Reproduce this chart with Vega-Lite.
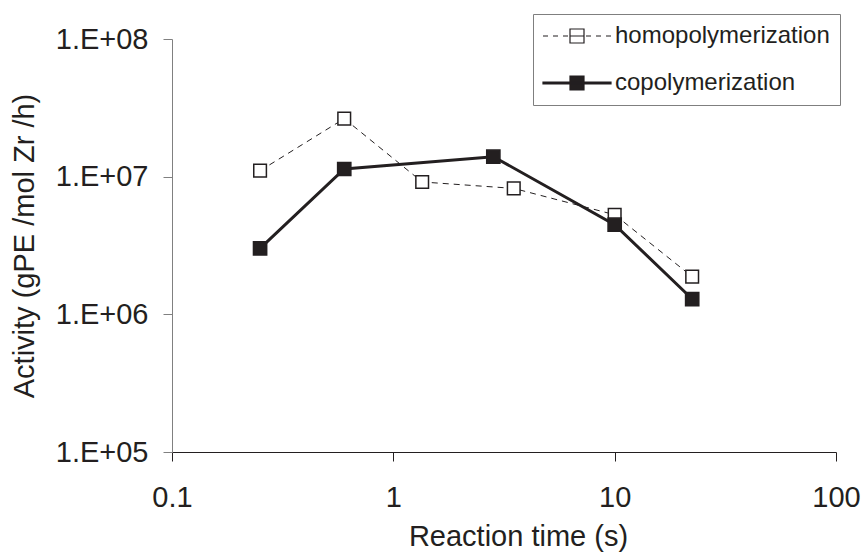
{
  "$schema": "https://vega.github.io/schema/vega-lite/v6.json",
  "width": 664,
  "height": 413,
  "autosize": "none",
  "padding": {"left": 172, "top": 39, "right": 29, "bottom": 101},
  "background": "white",
  "config": {
    "view": {"stroke": null},
    "font": "Liberation Sans",
    "legend": {
      "padding": 10,
      "strokeColor": "#7f7f7f",
      "fillColor": "white",
      "symbolSize": 400,
      "symbolStrokeWidth": 1.2,
      "symbolOffset": 22,
      "labelOffset": 26,
      "labelFontSize": 24,
      "labelLimit": 500,
      "labelColor": "#231f20",
      "rowPadding": 23
    }
  },
  "data": {
    "values": [
      {"series": "homopolymerization", "time": 0.25, "activity": 11050000},
      {"series": "homopolymerization", "time": 0.6, "activity": 26400000},
      {"series": "homopolymerization", "time": 1.35, "activity": 9150000},
      {"series": "homopolymerization", "time": 3.5, "activity": 8220000},
      {"series": "homopolymerization", "time": 10.0, "activity": 5290000},
      {"series": "homopolymerization", "time": 22.4, "activity": 1877000},
      {"series": "copolymerization", "time": 0.25, "activity": 3010000},
      {"series": "copolymerization", "time": 0.6, "activity": 11370000},
      {"series": "copolymerization", "time": 2.83, "activity": 13970000},
      {"series": "copolymerization", "time": 10.0, "activity": 4480000},
      {"series": "copolymerization", "time": 22.4, "activity": 1292000}
    ]
  },
  "encoding": {
    "x": {
      "field": "time",
      "type": "quantitative",
      "scale": {"type": "log", "domain": [0.1, 100]},
      "axis": {
        "title": "Reaction time (s)",
        "values": [0.1, 1, 10, 100],
        "format": "~g",
        "grid": false,
        "domainColor": "#231f20",
        "tickColor": "#231f20",
        "tickSize": 9,
        "labelFontSize": 29,
        "labelPadding": 22,
        "labelColor": "#231f20",
        "labelFlush": false,
        "labelOverlap": false,
        "titleFontSize": 29,
        "titleFontWeight": "normal",
        "titleColor": "#231f20",
        "titlePadding": 10,
        "titleX": 346
      }
    },
    "y": {
      "field": "activity",
      "type": "quantitative",
      "scale": {"type": "log", "domain": [100000, 100000000]},
      "axis": {
        "title": "Activity (gPE /mol Zr /h)",
        "values": [100000, 1000000, 10000000, 100000000],
        "labelExpr": "'1.E+0' + round(log(datum.value) / LN10)",
        "grid": false,
        "domainColor": "#808080",
        "tickColor": "#808080",
        "tickSize": 9,
        "labelFontSize": 29,
        "labelPadding": 15,
        "labelColor": "#231f20",
        "labelFlush": false,
        "labelOverlap": false,
        "titleFontSize": 29,
        "titleFontWeight": "normal",
        "titleColor": "#231f20",
        "titlePadding": 16
      }
    }
  },
  "layer": [
    {
      "transform": [{"filter": "datum.series === 'homopolymerization'"}],
      "mark": {"type": "line", "color": "#231f20", "strokeWidth": 1, "strokeDash": [6, 5]}
    },
    {
      "transform": [{"filter": "datum.series === 'copolymerization'"}],
      "mark": {"type": "line", "color": "#231f20", "strokeWidth": 3}
    },
    {
      "transform": [{"filter": "datum.series === 'homopolymerization'"}],
      "mark": {"type": "point", "shape": "square", "filled": true, "size": 160, "stroke": "#231f20", "strokeWidth": 1.5, "opacity": 1},
      "encoding": {
        "fill": {
          "field": "series",
          "type": "nominal",
          "scale": {"domain": ["homopolymerization", "copolymerization"], "range": ["white", "#231f20"]},
          "legend": {"title": null, "orient": "none", "legendX": 361, "legendY": -25}
        }
      }
    },
    {
      "transform": [{"filter": "datum.series === 'copolymerization'"}],
      "mark": {"type": "point", "shape": "square", "filled": true, "size": 175, "stroke": "#231f20", "strokeWidth": 1.5, "opacity": 1},
      "encoding": {
        "fill": {"field": "series", "type": "nominal", "legend": {"title": null, "orient": "none", "legendX": 361, "legendY": -25}}
      }
    },
    {
      "transform": [{"filter": "datum.time < 0"}],
      "mark": {"type": "point", "filled": true, "stroke": "#231f20", "strokeWidth": 1.2, "opacity": 1},
      "encoding": {
        "fill": {"field": "series", "type": "nominal", "legend": {"title": null, "orient": "none", "legendX": 361, "legendY": -25}},
        "shape": {
          "field": "series",
          "type": "nominal",
          "scale": {
            "domain": ["homopolymerization", "copolymerization"],
            "range": [
              "M-3.4,0H-2.9M-2.4,0H-1.9M-1.4,0H-0.9M0.9,0H1.4M1.9,0H2.4M2.9,0H3.4M-0.7,-0.7H0.7V0.7H-0.7ZM-0.7,0H0.7",
              "M-3.4,-0.1H3.4V0.1H-3.4ZM-0.7,-0.7H0.7V0.7H-0.7Z"
            ]
          },
          "legend": {"title": null, "orient": "none", "legendX": 361, "legendY": -25}
        }
      }
    }
  ]
}
